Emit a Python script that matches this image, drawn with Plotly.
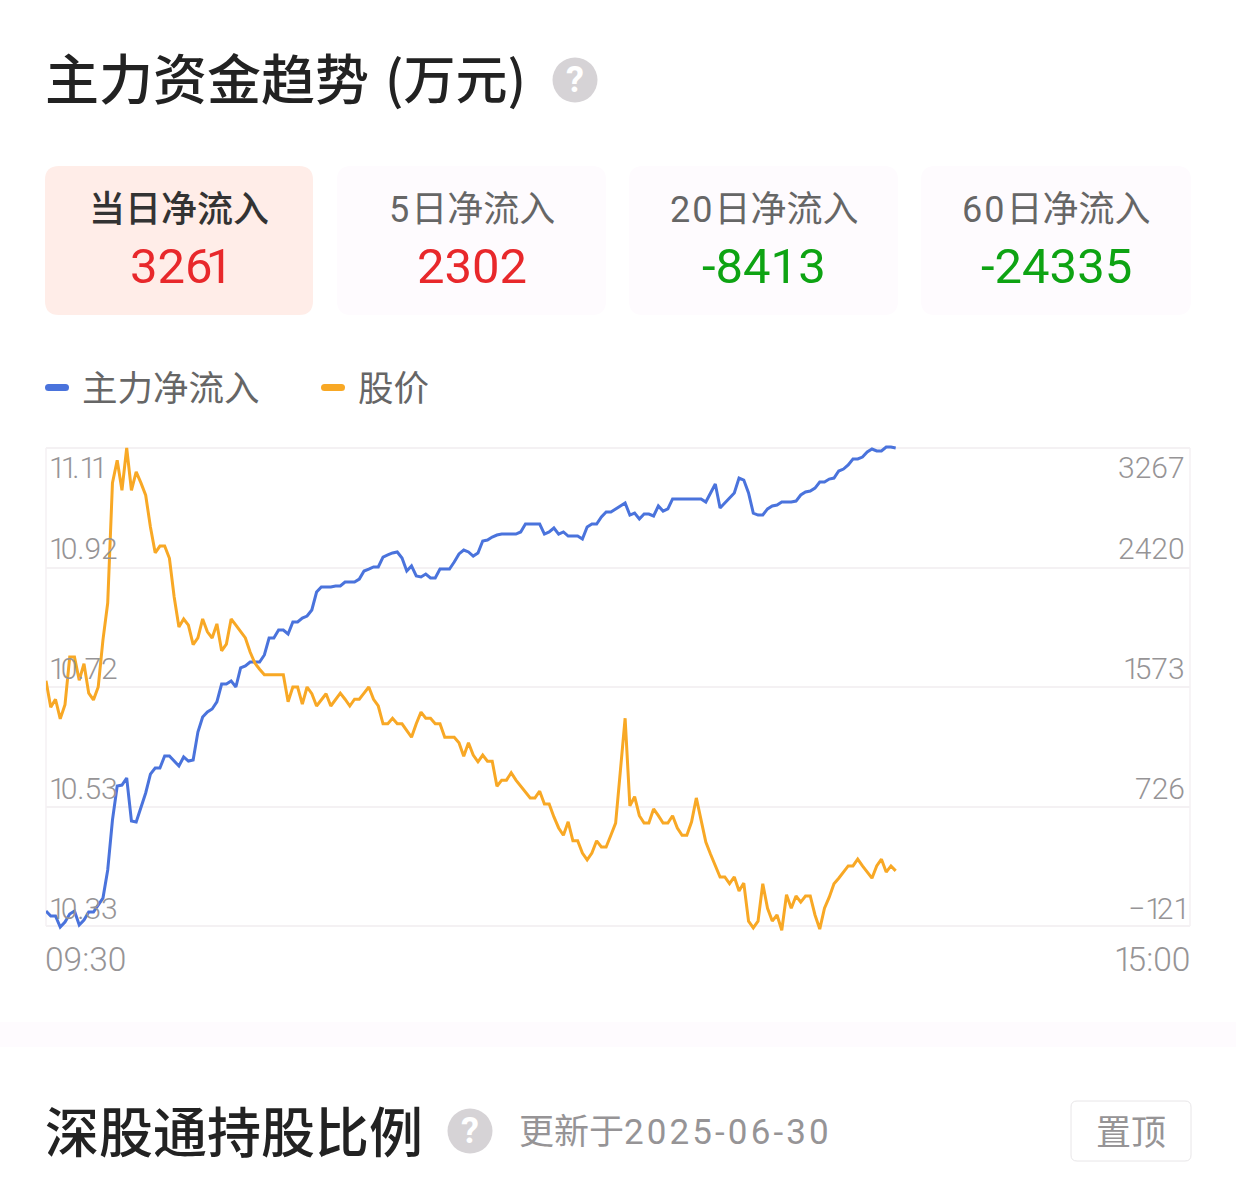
import plotly.graph_objects as go

W, H = 1236, 1192

flow_values = [
    -15, -50, -50, -128, -93, -36, -15, -114, -79, -22, -22, 28, 77, 276, 630, 871, 878, 928, 623, 616,
    722, 822, 956, 999, 999, 1084, 1084, 1048, 1013, 1077, 1048, 1056, 1254, 1360, 1396, 1417, 1467, 1594, 1594, 1616,
    1573, 1708, 1722, 1750, 1750, 1750, 1800, 1920, 1920, 1977, 1977, 1949, 2034, 2034, 2062, 2076, 2119, 2246, 2282, 2282,
    2282, 2289, 2289, 2317, 2317, 2317, 2338, 2395, 2409, 2424, 2424, 2494, 2509, 2523, 2530, 2487, 2395, 2431, 2360, 2353,
    2374, 2346, 2346, 2409, 2409, 2409, 2459, 2516, 2544, 2530, 2501, 2523, 2608, 2615, 2636, 2650, 2657, 2657, 2657, 2657,
    2672, 2728, 2728, 2728, 2728, 2657, 2672, 2700, 2657, 2672, 2643, 2643, 2643, 2622, 2707, 2728, 2728, 2778, 2813, 2813,
    2835, 2856, 2877, 2792, 2806, 2764, 2799, 2799, 2785, 2856, 2820, 2835, 2906, 2906, 2906, 2906, 2906, 2906, 2906, 2884,
    2948, 3012, 2842, 2877, 2906, 2948, 3054, 3040, 2948, 2806, 2792, 2792, 2835, 2856, 2863, 2884, 2884, 2884, 2891, 2934,
    2955, 2962, 2983, 3026, 3026, 3047, 3054, 3104, 3118, 3147, 3189, 3189, 3203, 3239, 3260, 3246, 3246, 3274, 3274, 3267,
]

price_values = [
    10.730, 10.687, 10.700, 10.668, 10.691, 10.769, 10.769, 10.731, 10.758, 10.710, 10.699, 10.720, 10.797, 10.857, 11.053, 11.090, 11.041, 11.110, 11.041, 11.071,
    11.053, 11.033, 10.981, 10.939, 10.950, 10.950, 10.930, 10.867, 10.818, 10.831, 10.821, 10.789, 10.800, 10.831, 10.810, 10.800, 10.823, 10.779, 10.790, 10.831,
    10.821, 10.811, 10.800, 10.777, 10.759, 10.749, 10.740, 10.740, 10.740, 10.740, 10.740, 10.696, 10.720, 10.720, 10.692, 10.720, 10.709, 10.689, 10.699, 10.709,
    10.689, 10.699, 10.710, 10.700, 10.689, 10.700, 10.700, 10.710, 10.720, 10.700, 10.689, 10.660, 10.660, 10.669, 10.660, 10.660, 10.650, 10.638, 10.660, 10.679,
    10.669, 10.669, 10.660, 10.660, 10.638, 10.638, 10.638, 10.629, 10.607, 10.629, 10.609, 10.598, 10.609, 10.599, 10.599, 10.558, 10.568, 10.568, 10.580, 10.568,
    10.558, 10.549, 10.539, 10.539, 10.550, 10.529, 10.529, 10.508, 10.490, 10.478, 10.500, 10.469, 10.469, 10.449, 10.438, 10.449, 10.469, 10.459, 10.459, 10.478,
    10.498, 10.583, 10.669, 10.526, 10.541, 10.510, 10.498, 10.498, 10.521, 10.510, 10.498, 10.498, 10.510, 10.490, 10.478, 10.478, 10.500, 10.539, 10.500, 10.467,
    10.447, 10.428, 10.410, 10.410, 10.399, 10.410, 10.387, 10.400, 10.338, 10.327, 10.338, 10.399, 10.359, 10.338, 10.348, 10.323, 10.381, 10.359, 10.379, 10.369,
    10.379, 10.379, 10.348, 10.325, 10.359, 10.377, 10.399, 10.408, 10.418, 10.428, 10.428, 10.439, 10.428, 10.418, 10.408, 10.428, 10.439, 10.418, 10.428, 10.420,
]

minutes = list(range(len(flow_values)))

price_ticks = [11.11, 10.92, 10.72, 10.53, 10.33]
flow_ticks = [3267, 2420, 1573, 726, -121]
time_labels = ["09:30", "15:00"]

card_leads = ["", "5", "20", "60"]
card_titles = ["当日净流入", "日净流入", "日净流入", "日净流入"]
card_values = ["3261", "2302", "-8413", "-24335"]
card_value_colors = ["#e8282b", "#e8282b", "#0ea313", "#0ea313"]

legend_names = ["主力净流入", "股价"]
FLOW_COLOR = "#4a73dc"
PRICE_COLOR = "#f8a825"

CJK = "Noto Sans CJK SC"
NUM = "Roboto, Noto Sans CJK SC"
TICK_GREY = "#969496"
SOFT_BG = "#fefbfe"

PLOT_TOP, PLOT_BOTTOM = 448, 926
PAD = 10  # px of headroom so the lines may overshoot the frame


def px(x):
    return x / W


def py(y):
    return 1 - y / H


def tight_ones(s, em):
    return s.replace("1", f'<span style="letter-spacing:{em}px">1</span>')


def rrect(x0, y0, x1, y1, r):
    a, b, c, d = px(x0), py(y0), px(x1), py(y1)
    rx, ry = r / W, r / H
    return (f"M{a + rx},{b} L{c - rx},{b} Q{c},{b} {c},{b - ry} L{c},{d + ry} Q{c},{d} {c - rx},{d} "
            f"L{a + rx},{d} Q{a},{d} {a},{d + ry} L{a},{b - ry} Q{a},{b} {a + rx},{b} Z")


shapes, notes = [], []


def text(x, y, s, size, color, anchor="left", family=CJK, weight=400):
    notes.append(dict(x=px(x), y=py(y), xref="paper", yref="paper", text=s, showarrow=False,
                      xanchor=anchor, yanchor="middle", borderpad=0, borderwidth=0,
                      font=dict(size=size, color=color, family=family, weight=weight)))


def box(x0, y0, x1, y1, r, fill, line=None):
    shapes.append(dict(type="path", xref="paper", yref="paper", path=rrect(x0, y0, x1, y1, r),
                       fillcolor=fill, line=dict(color=line or fill, width=1 if line else 0), layer="below"))


def help_icon(cx, cy):
    shapes.append(dict(type="circle", xref="paper", yref="paper", x0=px(cx - 22.5), x1=px(cx + 22.5),
                       y0=py(cy - 22.5), y1=py(cy + 22.5), fillcolor="#d6d3d6", line=dict(width=0), layer="below"))
    text(cx, cy, "?", 36, "#ffffff", "center", "Roboto", 700)


# header
text(45, 77, "主力资金趋势", 54, "#222222", weight=500)
text(385, 77, "(万元)", 52, "#222222", weight=500)
help_icon(575, 80)

# cards
card_boxes = [(45, 313), (337, 606), (629, 898), (921, 1191)]
for k, (a, b) in enumerate(card_boxes):
    box(a, 166, b, 315, 14, "#ffede8" if k == 0 else SOFT_BG)
    mid = (a + b) / 2
    lead = f'<span style="letter-spacing:2px">{card_leads[k]}</span>' if card_leads[k] else ""
    text(mid, 210, lead + card_titles[k], 36, "#333333" if k == 0 else "#666666", "center", NUM, 500 if k == 0 else 400)
    val = card_values[k]
    if k == 0:
        val = val.replace("6", '<span style="letter-spacing:-7px">6</span>')
    text(mid + (2.5 if k == 0 else 0), 266, val, 49, card_value_colors[k], "center", NUM, 450)

# legend
for x0, x1, col in [(45, 69, FLOW_COLOR), (321, 345, PRICE_COLOR)]:
    box(x0, 384, x1, 391, 3.5, col)
text(82, 385, legend_names[0], 35.5, "#666666")
text(358, 385, legend_names[1], 35.5, "#666666")

# axis labels
label_y = [467, 548, 668, 788, 908]
for yy, p, f in zip(label_y, price_ticks, flow_ticks):
    text(49, yy, tight_ones(f"{p:.2f}", -5), 30, TICK_GREY, "left", "Roboto", 350)
    text(1185, yy, tight_ones(str(f).replace("-", "−"), -5), 30, TICK_GREY, "right", "Roboto", 350)
text(45, 959, time_labels[0], 33.5, TICK_GREY, "left", "Roboto", 350)
text(1190, 959, tight_ones(time_labels[1], -5), 33.5, TICK_GREY, "right", "Roboto", 350)

# plot frame side lines
for xv in (46, 1190):
    shapes.append(dict(type="line", xref="paper", yref="paper", x0=px(xv), x1=px(xv), y0=py(PLOT_TOP), y1=py(PLOT_BOTTOM),
                       line=dict(color="#f4f1f3", width=1.5), layer="below"))

# faint divider band between sections
shapes.append(dict(type="rect", xref="paper", yref="paper", x0=0, x1=1, y0=py(1047), y1=py(1022),
                   fillcolor=SOFT_BG, line=dict(width=0), layer="below"))

# lower section
text(45, 1129, "深股通持股比例", 54, "#222222", weight=500)
help_icon(470, 1131)
text(519, 1132, '更新于<span style="letter-spacing:3.1px">2025-06-30</span>', 35, TICK_GREY, "left", NUM, 400)
box(1071, 1101, 1191, 1161, 6, "#ffffff", "#e8e6e8")
text(1131, 1129, "置顶", 35, TICK_GREY, "center")

fig = go.Figure()
fig.add_trace(go.Scatter(x=minutes, y=flow_values, mode="lines", name=legend_names[0], yaxis="y",
                         line=dict(color=FLOW_COLOR, width=3)))
fig.add_trace(go.Scatter(x=minutes, y=price_values, mode="lines", name=legend_names[1], yaxis="y2",
                         line=dict(color=PRICE_COLOR, width=3)))

# both value scales are extended by PAD px beyond the frame so nothing is clipped
span_px = PLOT_BOTTOM - PLOT_TOP
flow_pad = (flow_ticks[0] - flow_ticks[-1]) / span_px * PAD
price_pad = (price_ticks[0] - price_ticks[-1]) / span_px * PAD
dom = [py(PLOT_BOTTOM + PAD), py(PLOT_TOP - PAD)]
fig.update_layout(
    width=W, height=H, margin=dict(l=0, r=0, t=0, b=0), showlegend=False,
    paper_bgcolor="#ffffff", plot_bgcolor="rgba(0,0,0,0)",
    shapes=shapes, annotations=notes,
    xaxis=dict(domain=[px(46), px(1190)], range=[0, 241], showgrid=False, zeroline=False, showticklabels=False,
               fixedrange=True),
    yaxis=dict(domain=dom, range=[flow_ticks[-1] - flow_pad, flow_ticks[0] + flow_pad], tickvals=flow_ticks,
               showticklabels=False, gridcolor="#f4f1f3", gridwidth=1.5, zeroline=False, fixedrange=True),
    yaxis2=dict(domain=dom, range=[price_ticks[-1] - price_pad, price_ticks[0] + price_pad], overlaying="y",
                side="right", showgrid=False, zeroline=False, showticklabels=False, fixedrange=True),
    hovermode=False,
)

fig.write_html("out.html", config=dict(displayModeBar=False),
               post_script="document.body.style.margin='0';document.body.style.background='#ffffff';")
